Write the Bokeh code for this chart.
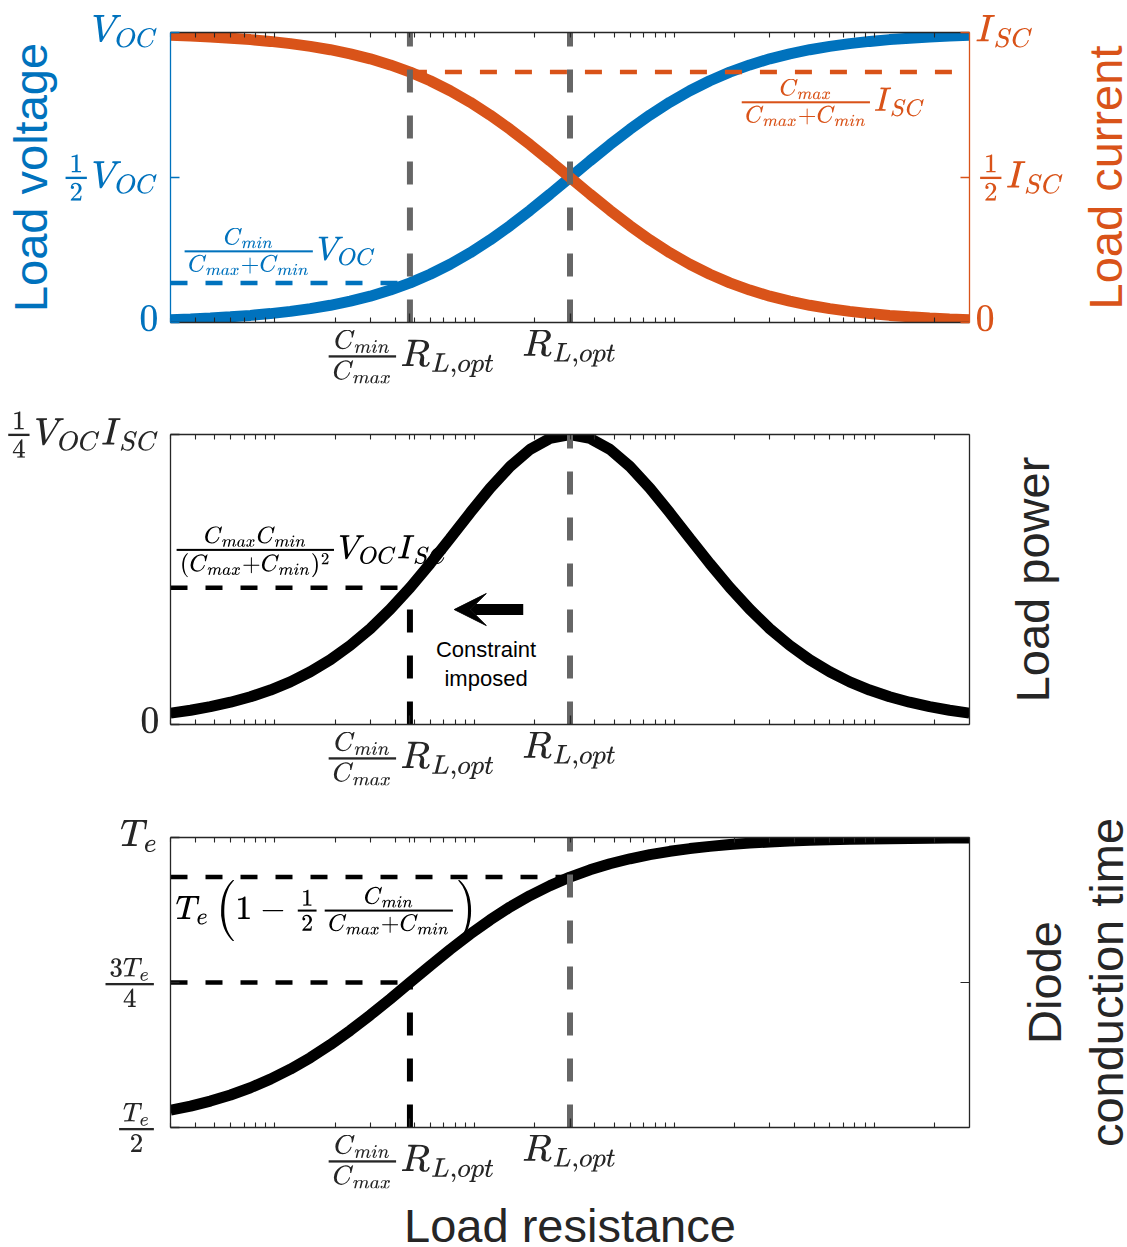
from bokeh.plotting import figure
from bokeh.models import FixedTicker, LinearAxis, LogAxis, Label, Arrow, VeeHead, TeX
from bokeh.layouts import column, row
from bokeh.embed import file_html
from bokeh.resources import INLINE

# ------------------------------------------------------------------ data
R_OPT = 30.0          # optimal load resistance
R_CON = 4.74          # (Cmin/Cmax) * R_opt
R_LIMITS = (0.3, 3000.0)

load_resistance = [0.3, 0.378, 0.475, 0.599, 0.754, 0.949, 1.194, 1.504, 1.893, 2.383,
                   3.0, 3.777, 4.755, 5.986, 7.536, 9.487, 11.94, 15.04, 18.93, 23.83,
                   30.0, 37.77, 47.55, 59.86, 75.36, 94.87, 119.4, 150.4, 189.3, 238.3,
                   300.0, 377.7, 475.5, 598.6, 753.6, 948.7, 1194.0, 1504.0, 1893.0, 2383.0, 3000.0]
load_voltage = [0.0099, 0.0124, 0.0156, 0.0196, 0.0245, 0.0307, 0.0383, 0.0477, 0.0594, 0.0736,
                0.0909, 0.1118, 0.1368, 0.1663, 0.2008, 0.2403, 0.2848, 0.3339, 0.3869, 0.4427,
                0.5, 0.5573, 0.6131, 0.6661, 0.7152, 0.7597, 0.7992, 0.8337, 0.8632, 0.8882,
                0.9091, 0.9264, 0.9406, 0.9523, 0.9617, 0.9693, 0.9755, 0.9804, 0.9844, 0.9876, 0.9901]
load_current = [0.9901, 0.9876, 0.9844, 0.9804, 0.9755, 0.9693, 0.9617, 0.9523, 0.9406, 0.9264,
                0.9091, 0.8882, 0.8632, 0.8337, 0.7992, 0.7597, 0.7152, 0.6661, 0.6131, 0.5573,
                0.5, 0.4427, 0.3869, 0.3339, 0.2848, 0.2403, 0.2008, 0.1663, 0.1368, 0.1118,
                0.0909, 0.0736, 0.0594, 0.0477, 0.0383, 0.0307, 0.0245, 0.0196, 0.0156, 0.0124, 0.0099]
load_power = [0.0098, 0.0123, 0.0154, 0.0192, 0.0239, 0.0297, 0.0368, 0.0455, 0.0558, 0.0682,
              0.0826, 0.0993, 0.1181, 0.1387, 0.1605, 0.1825, 0.2037, 0.2224, 0.2372, 0.2467,
              0.25, 0.2467, 0.2372, 0.2224, 0.2037, 0.1825, 0.1605, 0.1387, 0.1181, 0.0993,
              0.0826, 0.0682, 0.0558, 0.0455, 0.0368, 0.0297, 0.0239, 0.0192, 0.0154, 0.0123, 0.0098]
conduction_time = [0.5298, 0.5369, 0.5456, 0.5561, 0.5686, 0.5834, 0.6006, 0.6204, 0.6427, 0.6673,
                   0.6938, 0.7217, 0.7504, 0.7790, 0.8069, 0.8334, 0.8579, 0.8802, 0.8999, 0.9170,
                   0.9318, 0.9443, 0.9547, 0.9633, 0.9704, 0.9762, 0.9809, 0.9847, 0.9878, 0.9903,
                   0.9922, 0.9938, 0.9951, 0.9961, 0.9969, 0.9975, 0.9980, 0.9984, 0.9988, 0.9990, 0.9992]

V_CON = 0.1364   # Cmin/(Cmax+Cmin) V_OC
I_CON = 0.8636   # Cmax/(Cmax+Cmin) I_SC
P_CON = 0.1178   # CmaxCmin/(Cmax+Cmin)^2 V_OC I_SC
T_CON = 0.75     # 3Te/4
T_OPT = 0.9318   # Te(1 - 1/2 Cmin/(Cmax+Cmin))

x_tick_values = [R_CON, R_OPT]
x_tick_labels = [r"\textstyle\frac{C_{min}}{C_{max}}R_{L,opt}", r"R_{L,opt}"]
v_tick_values = [0.0, 0.5, 1.0]
v_tick_labels = ["0", r"\textstyle\frac{1}{2}V_{OC}", r"V_{OC}"]
i_tick_labels = ["0", r"\textstyle\frac{1}{2}I_{SC}", r"I_{SC}"]
p_tick_values = [0.0, 0.25]
p_tick_labels = ["0", r"\textstyle\frac{1}{4}V_{OC}I_{SC}"]
t_tick_values = [0.5, 0.75, 1.0]
t_tick_labels = [r"\textstyle\frac{T_e}{2}", r"\textstyle\frac{3T_e}{4}", r"T_e"]

ARROW_FROM, ARROW_TO, ARROW_Y = 17.5, 7.9, 0.0991
NOTE_X, NOTE_Y1, NOTE_Y2 = 11.4, 0.0647, 0.0397

# ------------------------------------------------------------------ style
BLUE = "#0072BD"
ORANGE = "#D95319"
GRAY = "#666666"
AX = "#262626"
TICK_FS = "31px"
NOTE_FS = "27.5px"
TITLE_FS = "47px"
SANS = "Liberation Sans"
BORDER_L = 170
FRAME_W, FRAME_H = 799, 290
TOTAL_W = 1125

MINOR = [m * 10.0 ** e for e in range(-1, 4) for m in range(1, 10)
         if R_LIMITS[0] < m * 10.0 ** e < R_LIMITS[1]]


def style_axis(ax, color=AX):
    ax.axis_line_color = color
    ax.axis_line_width = 1.3
    ax.major_tick_line_color = color
    ax.minor_tick_line_color = color
    ax.major_tick_line_width = 1.3
    ax.minor_tick_line_width = 1.1
    ax.major_tick_in = 9
    ax.major_tick_out = 0
    ax.minor_tick_in = 5
    ax.minor_tick_out = 0
    ax.major_label_text_color = color
    ax.major_label_text_font_size = TICK_FS
    ax.axis_label_text_font = SANS
    ax.axis_label_text_font_style = "normal"
    ax.axis_label_text_font_size = TITLE_FS
    ax.axis_label_text_color = color


def bare_axis(cls, ticks, minor_len=5):
    # an axis that only carries tick marks (no tick labels)
    ax = cls(ticker=FixedTicker(ticks=[], minor_ticks=ticks))
    style_axis(ax)
    ax.minor_tick_in = minor_len
    ax.major_label_standoff = 0
    return ax


def make_panel(top, bottom, right, yr, y_ticks, y_labels, y_color=AX, y_standoff=12):
    p = figure(frame_width=FRAME_W, frame_height=FRAME_H, x_axis_type="log",
               x_range=R_LIMITS, y_range=yr, output_backend="svg", toolbar_location=None,
               min_border_left=BORDER_L, min_border_right=right,
               min_border_top=top, min_border_bottom=bottom)
    p.outline_line_color = None
    p.xgrid.visible = False
    p.ygrid.visible = False
    p.background_fill_color = "white"
    p.border_fill_color = "white"
    xa = p.xaxis[0]
    xa.ticker = FixedTicker(ticks=x_tick_values, minor_ticks=MINOR)
    style_axis(xa)
    xa.major_label_overrides = {v: TeX(text=t) for v, t in zip(x_tick_values, x_tick_labels)}
    xa.major_label_standoff = 7
    p.add_layout(bare_axis(LogAxis, MINOR + x_tick_values), "above")
    ya = p.yaxis[0]
    ya.ticker = FixedTicker(ticks=y_ticks, minor_ticks=[])
    style_axis(ya, y_color)
    ya.major_label_overrides = {v: TeX(text=t) for v, t in zip(y_ticks, y_labels)}
    ya.major_label_standoff = y_standoff
    return p, xa, ya


def title_strip(width, height, title, standoff, color=AX, top=0, bottom=0, side="left",
                left=0, right=0):
    # narrow empty figure whose only content is an axis title (flush with its outer edge)
    s = figure(width=width, height=height, x_range=(0, 1), y_range=(0, 1), title=None,
               output_backend="svg", toolbar_location=None,
               min_border_left=left, min_border_right=right,
               min_border_top=top, min_border_bottom=bottom,
               x_axis_location="above" if side == "above" else None,
               y_axis_location="left" if side == "left" else None)
    s.outline_line_color = None
    s.grid.visible = False
    s.background_fill_color = "white"
    s.border_fill_color = "white"
    ax = s.xaxis[0] if side == "above" else s.yaxis[0]
    ax.ticker = FixedTicker(ticks=[], minor_ticks=[])
    style_axis(ax, color)
    ax.axis_line_color = None
    ax.major_label_standoff = 0
    ax.axis_label = title
    ax.axis_label_standoff = standoff
    return s


def add_note(p, tex, x, y, xoff, color, align="left"):
    p.add_layout(Label(x=x, y=y, x_offset=xoff, text=TeX(text=tex), text_align=align,
                       text_baseline="middle", text_font_size=NOTE_FS, text_color=color))


def hdash(p, x0, x1, y, color):
    p.line([x0, x1], [y, y], line_color=color, line_width=4.5, line_dash="17 18")


def vdash(p, x, y0, y1, color):
    p.line([x, x], [y0, y1], line_color=color, line_width=6, line_dash="23 23")


# ------------------------------------------------------------------ panel 1
R1 = 106
H1 = 32 + FRAME_H + 80
p1, x1, y1 = make_panel(32, 80, R1, (0, 1), v_tick_values, v_tick_labels, BLUE)
y1.axis_label = "Load voltage"
y1.axis_label_standoff = 1
right1 = LinearAxis(ticker=FixedTicker(ticks=v_tick_values, minor_ticks=[]))
style_axis(right1, ORANGE)
right1.major_label_overrides = {v: TeX(text=t) for v, t in zip(v_tick_values, i_tick_labels)}
right1.major_label_standoff = 6
p1.add_layout(right1, "right")

p1.line(load_resistance, load_voltage, line_color=BLUE, line_width=11)
p1.line(load_resistance, load_current, line_color=ORANGE, line_width=11)
hdash(p1, R_LIMITS[0], R_CON, V_CON, BLUE)
hdash(p1, R_CON, R_LIMITS[1], I_CON, ORANGE)
vdash(p1, R_CON, 0, 1, GRAY)
vdash(p1, R_OPT, 0, 1, GRAY)
add_note(p1, r"\textstyle\frac{C_{min}}{C_{max}+C_{min}}V_{OC}", R_LIMITS[0], 0.245, 10, BLUE)
add_note(p1, r"\textstyle\frac{C_{max}}{C_{max}+C_{min}}I_{SC}", R_LIMITS[1], 0.759, -44, ORANGE, "right")
s1 = title_strip(TOTAL_W - BORDER_L - FRAME_W - R1, H1, "Load current", -30, ORANGE, 16, 65)

# ------------------------------------------------------------------ panel 2
R2 = 33
H2 = 32 + FRAME_H + 81
p2, x2, y2 = make_panel(32, 81, R2, (0, 0.25), p_tick_values, p_tick_labels, AX, 11)
p2.add_layout(bare_axis(LinearAxis, p_tick_values, 9), "right")
p2.line(load_resistance, load_power, line_color="black", line_width=11)
hdash(p2, R_LIMITS[0], R_CON, P_CON, "black")
vdash(p2, R_CON, 0, P_CON, "black")
vdash(p2, R_OPT, 0, 0.25, GRAY)
add_note(p2, r"\textstyle\frac{C_{max}C_{min}}{(C_{max}+C_{min})^2}V_{OC}I_{SC}", R_LIMITS[0], 0.149, 2, "black")
p2.add_layout(Arrow(end=VeeHead(size=32, fill_color="black", line_color="black"),
                    x_start=ARROW_FROM, y_start=ARROW_Y, x_end=ARROW_TO, y_end=ARROW_Y,
                    line_color="black", line_width=11))
for txt, yy in (("Constraint", NOTE_Y1), ("imposed", NOTE_Y2)):
    p2.add_layout(Label(x=NOTE_X, y=yy, text=txt, text_align="center", text_baseline="middle",
                        text_font=SANS, text_font_size="22px", text_color="black"))
s2 = title_strip(TOTAL_W - BORDER_L - FRAME_W - R2, H2, "Load power", 0, AX, 20, 62)

# ------------------------------------------------------------------ panel 3
R3 = 45
H3 = 32 + FRAME_H + 68
p3, x3, y3 = make_panel(32, 68, R3, (0.5, 1.0), t_tick_values, t_tick_labels)
p3.add_layout(bare_axis(LinearAxis, t_tick_values, 9), "right")
p3.line(load_resistance, conduction_time, line_color="black", line_width=11)
hdash(p3, R_LIMITS[0], R_CON, T_CON, "black")
hdash(p3, R_LIMITS[0], R_OPT, T_OPT, "black")
vdash(p3, R_CON, 0.5, T_CON, "black")
vdash(p3, R_OPT, 0.5, 1.0, GRAY)
add_note(p3, r"\textstyle T_e\left(1-\frac{1}{2}\frac{C_{min}}{C_{max}+C_{min}}\right)", R_LIMITS[0], 0.874, 5, "black")
WA = 62
s3a = title_strip(WA, H3, "Diode", -20, AX, 20, 55)
s3b = title_strip(TOTAL_W - BORDER_L - FRAME_W - R3 - WA, H3, "conduction time", -30, AX, 20, 55)

# x-axis title strip under the bottom panel
s4 = title_strip(TOTAL_W, 50, "Load resistance", -25, AX, 0, 0, "above",
                 BORDER_L, TOTAL_W - BORDER_L - FRAME_W)

layout = column(row(p1, s1), row(p2, s2), row(p3, s3a, s3b), s4)
open("out.html", "w").write(file_html(layout, INLINE))
